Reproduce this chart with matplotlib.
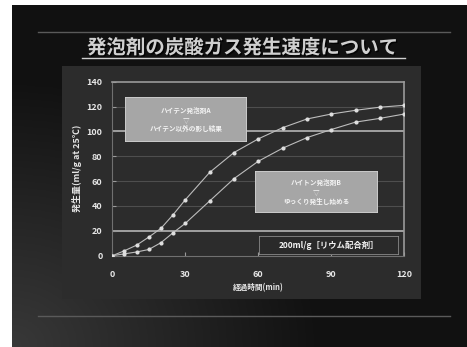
import numpy as np
import matplotlib.pyplot as plt
import matplotlib.patheffects as pe
from matplotlib.lines import Line2D
from matplotlib.patches import Rectangle

plt.rcParams['font.family'] = ['Noto Sans CJK JP', 'DejaVu Sans']

# ── Data ───────────────────────────────────────────────────────────
time_min = [0, 5, 10, 15, 20, 25, 30, 40, 50, 60, 70, 80, 90, 100, 110, 120]
gas_fast = [0, 4, 8.5, 15, 22, 33, 45, 67, 83, 94, 103, 110, 114, 117, 119.5, 121]
gas_slow = [0, 1.5, 3, 5, 10.5, 18.5, 26, 44, 62, 76, 86.5, 95, 101.5, 107.5, 110.5, 114]
y_ticks = [0, 20, 40, 60, 80, 100, 120, 140]
x_ticks = [0, 30, 60, 90, 120]

title = '発泡剤の炭酸ガス発生速度について'
box_fast = 'ハイテン発泡剤A\n▽\nハイテン以外の影し結果'
box_slow = 'ハイトン発泡剤B\n▽\nゆっくり発生し始める'
box_note = '200ml/g［リウム配合剤］'
x_label = '経過時間(min)'
y_label = '発生量(ml/g at 25℃)'

# ── Style ──────────────────────────────────────────────────────────
W, H = 467, 347
_PANEL = '#2c2c2c'
_TEXT = '#e6e6e6'
_LINE = '#bdbdbd'


def _rect(x0, y0, x1, y1):
    """pixel box (top-left origin) -> figure fraction rect"""
    return [x0 / W, 1 - y1 / H, (x1 - x0) / W, (y1 - y0) / H]


fig = plt.figure(figsize=(W / 100, H / 100), dpi=100)
fig.patch.set_facecolor('white')

# slide background with a soft light sweep from the lower left
bg = fig.add_axes(_rect(12, 5, 467, 347))
bg.set_axis_off()
gx, gy = np.meshgrid(np.linspace(0, 1, 200), np.linspace(0, 1, 150))
glow = np.clip(1 - np.hypot(gx * 1.5, (1 - gy) * 1.3), 0, 1)
shade = 0.07 + 0.15 * glow
bg.imshow(np.dstack([shade] * 3), extent=[0, 1, 0, 1], aspect='auto', origin='upper')
bg.set_xlim(0, 1)
bg.set_ylim(0, 1)

# decorative lines
for yy in (32, 316):
    fig.add_artist(Line2D([38 / W, 450 / W], [1 - yy / H] * 2,
                          color='#5a5a5a', linewidth=1.0))

# title + underline
fig.text(243 / W, 1 - 48 / H, title, ha='center', va='center',
         fontsize=14, color='#d0d0d0', fontweight='bold',
         path_effects=[pe.withSimplePatchShadow(offset=(1, -1),
                                                shadow_rgbFace='#000000', alpha=0.8)])
fig.add_artist(Line2D([82 / W, 405 / W], [1 - 58 / H] * 2,
                      color='#cfcfcf', linewidth=1.0))

# chart panel
panel = fig.add_axes(_rect(62, 66, 421, 299))
panel.set_facecolor(_PANEL)
panel.set_xticks([])
panel.set_yticks([])
for s in panel.spines.values():
    s.set_visible(False)

# ── Plot ───────────────────────────────────────────────────────────
ax = fig.add_axes(_rect(112.3, 81.7, 404.3, 255.7))
ax.set_facecolor(_PANEL)
ax.set_xlim(0, 120)
ax.set_ylim(0, 140)

for lvl in y_ticks[1:-1]:
    bright = lvl in (20, 100)
    ax.axhline(lvl, color='#b4b4b4' if bright else '#4e4e4e',
               linewidth=1.2 if bright else 0.8, zorder=1)

for s in ('top', 'right'):
    ax.spines[s].set_color('#9a9a9a')
    ax.spines[s].set_linewidth(1.2)
for s in ('left', 'bottom'):
    ax.spines[s].set_color('#707070')
    ax.spines[s].set_linewidth(0.8)

for vals in (gas_fast, gas_slow):
    ax.plot(time_min, vals, color=_LINE, linewidth=0.8, marker='o',
            markersize=3, markerfacecolor='#dedede', markeredgewidth=0,
            zorder=3)

ax.set_xticks(x_ticks)
ax.set_yticks(y_ticks)
ax.tick_params(direction='in', length=3, color='#9a9a9a', labelcolor=_TEXT,
               labelsize=6.5)
ax.tick_params(axis='x', pad=10)
ax.tick_params(axis='y', pad=7)
for lab in ax.get_xticklabels() + ax.get_yticklabels():
    lab.set_fontweight('bold')

ax.set_xlabel(x_label, fontsize=5.5, color=_TEXT, fontweight='bold', labelpad=3)
ax.set_ylabel(y_label, fontsize=6.5, color=_TEXT, fontweight='bold', labelpad=3)

# annotation boxes (pixel-placed like on the slide)
def _box(x0, y0, x1, y1, face, edge, text, size):
    b = fig.add_axes(_rect(x0, y0, x1, y1))
    b.set_xlim(0, 1)
    b.set_ylim(0, 1)
    b.set_axis_off()
    b.add_patch(Rectangle((0, 0), 1, 1, transform=b.transAxes,
                          facecolor=face, edgecolor=edge, linewidth=1.2))
    b.text(0.5, 0.5, text, ha='center', va='center', fontsize=size,
           color='#f4f4f4', linespacing=1.35, fontweight='bold')


_box(125, 97, 247, 142, '#a6a6a6', '#d0d0d0', box_fast, 4.8)
_box(255, 171, 378, 213, '#a6a6a6', '#d0d0d0', box_slow, 4.8)
_box(259, 236, 399, 255, '#2a2a2a', '#8a8a8a', box_note, 6)

fig.savefig('out.png', dpi=100, facecolor=fig.get_facecolor())
